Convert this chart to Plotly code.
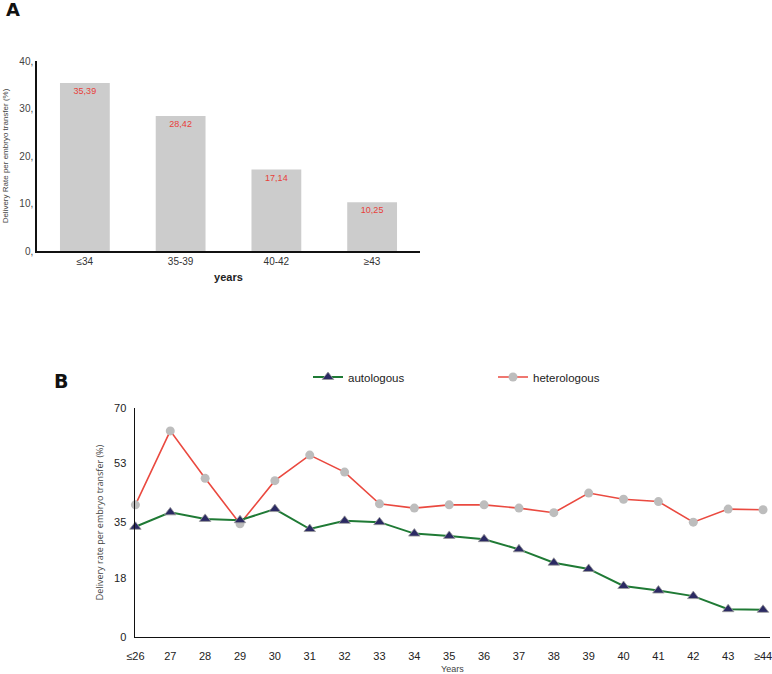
''' Delivery rate per embryo transfer: by age group (A) and by year of age (B) '''
import plotly.graph_objects as go

# Panel A data
age_groups = ['≤34', '35-39', '40-42', '≥43']
group_rates = [35.39, 28.42, 17.14, 10.25]
group_labels = [f'{v:.2f}'.replace('.', ',') for v in group_rates]
a_ticks = [0, 10, 20, 30, 40]
a_ticktext = ['0,', '10,', '20,', '30,', '40,']

# Panel B data
ages = ['≤26', '27', '28', '29', '30', '31', '32', '33', '34', '35',
        '36', '37', '38', '39', '40', '41', '42', '43', '≥44']
autologous = [33.7, 38.1, 36.1, 35.7, 39.1, 33.0, 35.5, 35.1, 31.6, 30.9,
              29.9, 26.8, 22.7, 20.8, 15.6, 14.2, 12.5, 8.5, 8.3]
heterologous = [40.4, 63.0, 48.5, 34.6, 47.8, 55.6, 50.4, 40.7, 39.4, 40.4,
                40.4, 39.4, 38.0, 44.0, 42.1, 41.4, 35.1, 39.1, 38.9]
b_ticks = [0, 18, 35, 53, 70]

W, H = 772, 674
FONT = 'Liberation Sans, Arial, sans-serif'
NARROW = 'Liberation Sans Narrow, Liberation Sans, Arial, sans-serif'


def fx(px):
    ''' pixel x -> paper fraction '''
    return px / W


def fy(py):
    ''' pixel y (from top) -> paper fraction '''
    return 1 - py / H


fig = go.Figure()

# Panel A bars
fig.add_trace(
    go.Bar(
        x=list(range(len(age_groups))),
        y=group_rates,
        text=group_labels,
        textposition='inside',
        insidetextanchor='end',
        textfont=dict(color='#e8403a', size=9, family=FONT),
        marker_color='#cccccc',
        marker_line_width=0,
        width=0.52,
        showlegend=False,
        xaxis='x',
        yaxis='y',
        hoverinfo='skip'
    )
)

# Panel B lines
fig.add_trace(
    go.Scatter(
        x=list(range(len(ages))),
        y=heterologous,
        mode='lines+markers',
        name='heterologous',
        line=dict(color='#ea4a40', width=1.6),
        marker=dict(symbol='circle', size=9, color='#bdbdbd'),
        cliponaxis=False,
        xaxis='x2',
        yaxis='y2'
    )
)

fig.add_trace(
    go.Scatter(
        x=list(range(len(ages))),
        y=autologous,
        mode='lines+markers',
        name='autologous',
        line=dict(color='#1f7a35', width=2),
        marker=dict(symbol='triangle-up', size=10, color='#2b2a63',
                    line=dict(color='#9a9a9a', width=0.8)),
        cliponaxis=False,
        xaxis='x2',
        yaxis='y2'
    )
)

axis_common = dict(showgrid=False, zeroline=False, showline=True,
                   linecolor='#111111', ticks='', automargin=False)

fig.update_layout(
    width=W,
    height=H,
    margin=dict(l=0, r=0, t=0, b=0),
    plot_bgcolor='white',
    paper_bgcolor='white',
    font=dict(family=FONT, color='#222222'),
    legend=dict(
        orientation='h',
        x=fx(308),
        y=fy(377),
        xanchor='left',
        yanchor='middle',
        itemwidth=30,
        entrywidth=140,
        traceorder='reversed',
        font=dict(size=11.5, family=NARROW, color='#222222')
    ),
    xaxis=dict(
        axis_common,
        domain=[fx(37), fx(420)],
        range=[-0.5, 3.5],
        tickvals=list(range(len(age_groups))),
        ticktext=age_groups,
        tickfont=dict(size=10, color='#333333'),
        linewidth=1.5,
        anchor='y',
        title=dict(text='<b>years</b>', font=dict(size=11, color='#222222'), standoff=8)
    ),
    yaxis=dict(
        axis_common,
        domain=[fy(251), fy(61)],
        range=[0, 40],
        tickvals=a_ticks,
        ticktext=a_ticktext,
        tickfont=dict(size=10, color='#444444'),
        linewidth=1.5,
        anchor='x',
        title=dict(text='Delivery Rate per embryo transfer (%)',
                   font=dict(size=8, color='#444444'), standoff=10)
    ),
    xaxis2=dict(
        axis_common,
        domain=[fx(134.7), fx(770)],
        range=[-0.02, 18.2],
        tickvals=list(range(len(ages))),
        ticktext=ages,
        tickfont=dict(size=11, family=NARROW, color='#222222'),
        ticklabelstandoff=9,
        ticklabeloverflow='allow',
        linewidth=1.3,
        anchor='y2',
        title=dict(text='Years', font=dict(size=9, color='#444444'), standoff=4)
    ),
    yaxis2=dict(
        axis_common,
        domain=[fy(637), fy(408)],
        range=[0, 70],
        tickvals=b_ticks,
        tickfont=dict(size=11, family=NARROW, color='#222222'),
        ticklabelstandoff=5,
        linewidth=1.3,
        anchor='x2',
        title=dict(text='Delivery rate per embryo transfer (%)',
                   font=dict(size=9, family='Open Sans, sans-serif', color='#444444'),
                   standoff=8)
    ),
    annotations=[
        dict(text='<b>A</b>', x=fx(4), y=fy(10), xref='paper', yref='paper',
             xanchor='left', yanchor='middle', showarrow=False,
             font=dict(size=18, family='DejaVu Sans, sans-serif', color='#111111')),
        dict(text='<b>B</b>', x=fx(52), y=fy(381), xref='paper', yref='paper',
             xanchor='left', yanchor='middle', showarrow=False,
             font=dict(size=19, family='DejaVu Sans, sans-serif', color='#111111')),
    ]
)

# drop the page's default body margin so the figure sits at the window corner
fig.write_html(
    'out.html',
    config={'displayModeBar': False},
    post_script="document.body.style.margin='0';document.body.style.overflow='hidden';"
)
